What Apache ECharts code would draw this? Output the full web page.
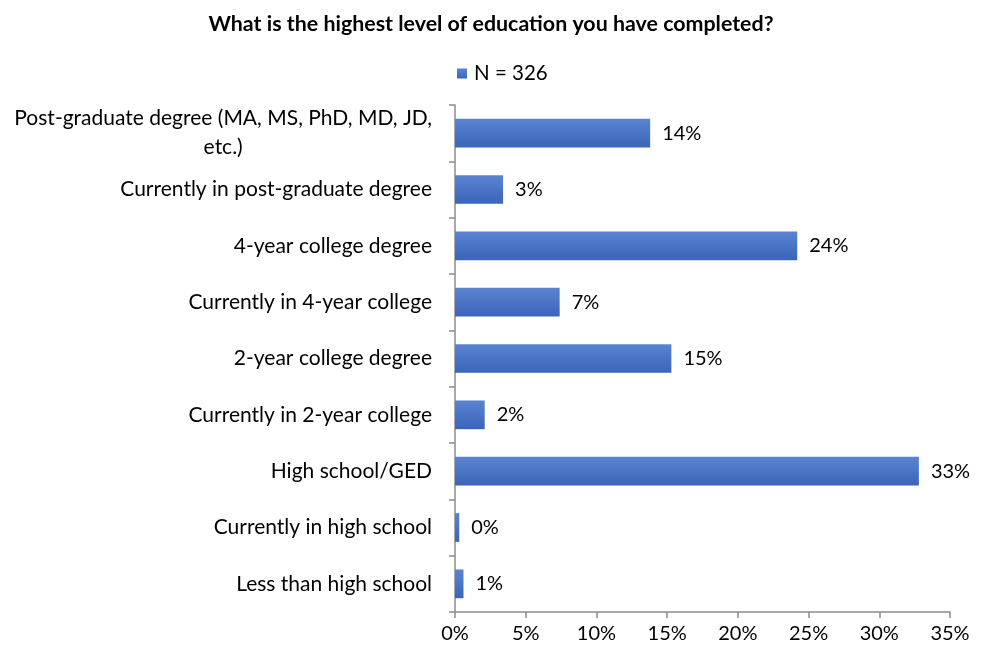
<!DOCTYPE html>
<html>
<head>
<meta charset="utf-8">
<script src="https://cdn.jsdelivr.net/npm/echarts@6/dist/echarts.min.js"></script>
<style>
  html, body { margin: 0; padding: 0; background: #fff; }
  #chart { width: 982px; height: 652px; }
</style>
</head>
<body>
<div id="chart"></div>
<script>
// Survey answers, listed bottom-to-top as the category axis draws them
const categories = [
  'Less than high school',
  'Currently in high school',
  'High school/GED',
  'Currently in 2-year college',
  '2-year college degree',
  'Currently in 4-year college',
  '4-year college degree',
  'Currently in post-graduate degree',
  'Post-graduate degree (MA, MS, PhD, MD, JD,\netc.)'
];
// Share of respondents (%), N = 326
const shares = [0.6, 0.3, 32.8, 2.1, 15.3, 7.4, 24.2, 3.4, 13.8];
const seriesName = 'N = 326';
const titleText = 'What is the highest level of education you have completed?';

const FONT = 'Lato, "Open Sans", sans-serif';

// Multi-line category names: first line flush right, following lines centred under it
function categoryLabel(value) {
  const lines = value.split('\n');
  if (lines.length === 1) return value;
  return lines.map((l, i) => (i === 0 ? '{a|' : '{c|') + l + '}').join('\n');
}

const chart = echarts.init(document.getElementById('chart'));
chart.setOption({
  animation: false,
  title: {
    text: titleText,
    left: 'center',
    top: 9,
    textStyle: { fontFamily: FONT, fontSize: 21.4, fontWeight: 'bold', color: '#000' }
  },
  legend: {
    data: [{ name: seriesName, icon: 'rect' }],
    top: 58,
    left: 452,
    itemWidth: 10,
    itemHeight: 10,
    itemGap: 4,
    textStyle: { fontFamily: FONT, fontSize: 20.5, color: '#000', padding: [0, 0, 0, 2] }
  },
  grid: { left: 455, right: 32, top: 105, bottom: 40, containLabel: false },
  xAxis: {
    type: 'value',
    min: 0,
    max: 35,
    interval: 5,
    axisLine: { show: true, lineStyle: { color: '#8c8c8c', width: 1.5 } },
    axisTick: { show: true, length: 6, lineStyle: { color: '#8c8c8c', width: 1.5 } },
    splitLine: { show: false },
    axisLabel: {
      formatter: v => v + '%',
      fontFamily: FONT, fontSize: 20, color: '#000', margin: 12
    }
  },
  yAxis: {
    type: 'category',
    data: categories,
    axisLine: { show: true, lineStyle: { color: '#8c8c8c', width: 1.5 } },
    axisTick: { show: true, length: 6, lineStyle: { color: '#8c8c8c', width: 1.5 } },
    axisLabel: {
      fontFamily: FONT, fontSize: 21, color: '#000', margin: 23,
      align: 'right', lineHeight: 29,
      formatter: categoryLabel,
      rich: {
        a: { fontFamily: FONT, fontSize: 21, color: '#000', lineHeight: 29 },
        c: { fontFamily: FONT, fontSize: 21, color: '#000', lineHeight: 29, align: 'center' }
      }
    }
  },
  series: [{
    name: seriesName,
    type: 'bar',
    data: shares,
    barWidth: '51%',
    itemStyle: {
      color: new echarts.graphic.LinearGradient(0, 0, 0, 1, [
        { offset: 0, color: '#5a84d2' },
        { offset: 1, color: '#3a65b9' }
      ])
    },
    label: {
      show: true,
      position: 'right',
      distance: 12,
      formatter: p => Math.round(p.value) + '%',
      fontFamily: FONT, fontSize: 20, color: '#000'
    }
  }]
});
</script>
</body>
</html>
